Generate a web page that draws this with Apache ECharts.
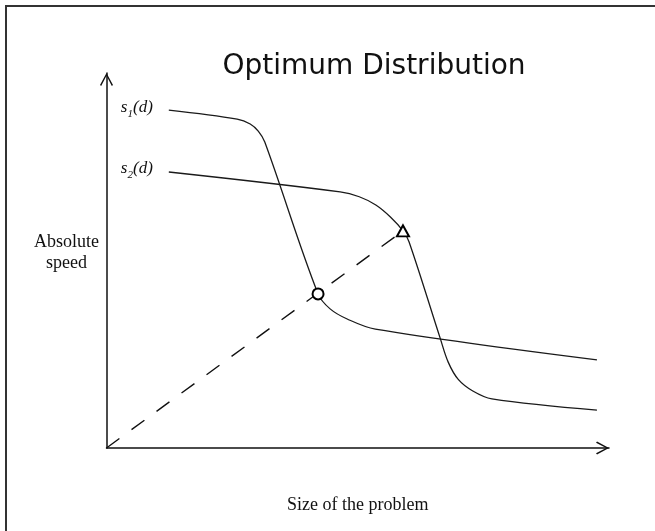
<!DOCTYPE html>
<html>
<head>
<meta charset="utf-8">
<script src="https://cdn.jsdelivr.net/npm/echarts@6/dist/echarts.min.js"></script>
<style>
  html, body { margin: 0; padding: 0; background: #fff; }
  #optimumChart { width: 655px; height: 531px; }
</style>
</head>
<body>
<div id="optimumChart"></div>
<script>
// [size, speed] points, both axes run 0..100
const s1Points = [
  [12.4, 90.1], [26.0, 87.7], [28.6, 86.4], [30.2, 84.5], [31.5, 81.6],
  [42.1, 41.1], [44.5, 37.1], [47.9, 34.4], [53.5, 31.7], [97.6, 23.5],
];
const s2Points = [
  [12.4, 73.6], [46.5, 68.3], [50.3, 67.0], [53.6, 64.8], [56.5, 61.6],
  [59.0, 57.9], [60.2, 55.0], [66.4, 29.3], [68.0, 22.9], [70.0, 18.3],
  [72.9, 15.2], [76.7, 13.1], [97.6, 10.1],
];
const curveSubscripts = ["1", "2"];
const origin = [0, 0];
const s1Optimum = [42.1, 41.1];
const s2Optimum = [59.0, 57.9];

const chart = echarts.init(document.getElementById("optimumChart"));
window.addEventListener("resize", () => {
  chart.resize();
});

const ink = "#111";
const arrowPath = "path://M50,0 L100,92 L91,100 L50,22 L9,100 L0,92 Z";
const axisLine = {
  show: true,
  symbol: ["none", arrowPath],
  symbolSize: [13, 13],
  symbolOffset: [0, -6.5],
  lineStyle: { color: ink, width: 1.5 },
};

function curveLabel(sub) {
  return {
    show: true,
    position: "left",
    distance: 16,
    offset: [0, -3],
    formatter: (p) => (p.dataIndex === 0 ? `{s|s}{sub|${sub}}{s|(d)}` : ""),
    rich: {
      s: {
        fontFamily: "Liberation Serif",
        fontStyle: "italic",
        fontSize: 17,
        color: ink,
        lineHeight: 24,
      },
      sub: {
        fontFamily: "Liberation Serif",
        fontStyle: "italic",
        fontSize: 11,
        color: ink,
        lineHeight: 14,
        verticalAlign: "bottom",
      },
    },
  };
}

function curve(points, sub) {
  return {
    type: "line",
    data: points,
    smooth: 0.35,
    symbol: "circle",
    symbolSize: 0,
    showSymbol: true,
    lineStyle: { color: "#1a1a1a", width: 1.3 },
    itemStyle: { color: "#1a1a1a" },
    label: curveLabel(sub),
  };
}

function optimumMark(point, symbol, size) {
  return {
    type: "scatter",
    data: [point],
    symbol: symbol,
    symbolSize: size,
    z: 5,
    itemStyle: { color: "#fff", borderColor: "#000", borderWidth: 2, opacity: 1 },
  };
}

chart.setOption({
  animation: false,
  graphic: [
    {
      type: "rect",
      silent: true,
      shape: { x: 6, y: 6, width: 700, height: 600 },
      style: { fill: "none", stroke: "#333", lineWidth: 2 },
    },
  ],
  title: {
    text: "Optimum Distribution",
    left: 369,
    top: 62,
    textAlign: "center",
    textVerticalAlign: "middle",
    textStyle: {
      fontFamily: "DejaVu Sans",
      fontSize: 28,
      fontWeight: "normal",
      color: ink,
    },
  },
  grid: { left: 106.5, right: 46, top: 73, bottom: 83 },
  xAxis: {
    type: "value",
    min: 0,
    max: 100,
    name: "Size of the problem",
    nameLocation: "middle",
    nameGap: 48,
    nameTextStyle: { fontFamily: "Liberation Serif", fontSize: 18, color: ink },
    axisLine: axisLine,
    axisTick: { show: false },
    axisLabel: { show: false },
    splitLine: { show: false },
  },
  yAxis: {
    type: "value",
    min: 0,
    max: 100,
    // trailing spacer line lifts the two-line name a little above the axis middle
    name: "{a|Absolute}\n{a|speed}\n{gap| }",
    nameLocation: "middle",
    nameRotate: 0,
    nameGap: 40,
    nameTextStyle: {
      align: "center",
      rich: {
        a: {
          fontFamily: "Liberation Serif",
          fontSize: 18,
          lineHeight: 21,
          color: ink,
          align: "center",
        },
        gap: { fontSize: 8, lineHeight: 16 },
      },
    },
    axisLine: axisLine,
    axisTick: { show: false },
    axisLabel: { show: false },
    splitLine: { show: false },
  },
  series: [
    curve(s1Points, curveSubscripts[0]),
    curve(s2Points, curveSubscripts[1]),
    {
      type: "line",
      data: [origin, s2Optimum],
      symbol: "none",
      lineStyle: { color: ink, width: 1.4, type: [16, 15] },
    },
    optimumMark(s1Optimum, "circle", 11),
    optimumMark(s2Optimum, "triangle", [12, 11]),
  ],
});
</script>
</body>
</html>
